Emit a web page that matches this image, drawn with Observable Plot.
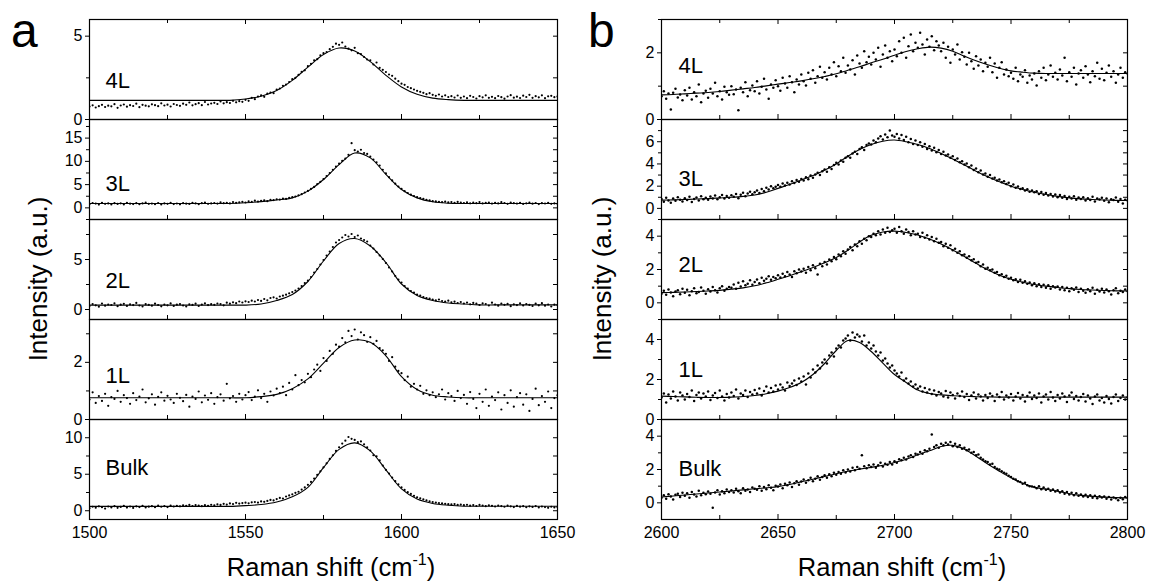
<!DOCTYPE html>
<html><head><meta charset="utf-8">
<script src="https://cdn.jsdelivr.net/npm/d3@7"></script>
<script src="https://cdn.jsdelivr.net/npm/@observablehq/plot@0.6"></script>
<style>
html,body{margin:0;padding:0;background:#fff;}
#chart{position:relative;width:1151px;height:581px;background:#fff;overflow:hidden;font-family:"Liberation Sans",Arial,sans-serif;color:#000}
#chart svg.sub{position:absolute;overflow:visible}
#overlay{position:absolute;left:0;top:0}
</style></head><body><div id="chart"></div>
<script>
// ---------------- panel a (G band) ----------------
const aXDomain = [1500, 1650];
const aXMajor = [1500, 1550, 1600, 1650];
const aXMinor = [1525, 1575, 1625];
const aDotStart = 1500, aDotStep = 1;
const aFitX = [1500,1505,1510,1515,1520,1525,1530,1535,1540,1545,1550,1555,1560,1565,1570,1575,1580,1585,1590,1595,1600,1605,1610,1615,1620,1625,1630,1635,1640,1645,1650];

const aFit4L = [1.15,1.15,1.15,1.15,1.15,1.15,1.15,1.15,1.15,1.15,1.23,1.40,1.74,2.35,3.14,3.90,4.29,4.11,3.47,2.65,1.95,1.51,1.28,1.19,1.15,1.15,1.15,1.15,1.15,1.15,1.15];
const aFit3L = [0.95,0.95,0.95,0.95,0.95,0.95,0.95,0.95,0.95,0.95,1.10,1.35,1.70,2.15,3.60,6.10,9.30,11.80,10.75,7.20,3.95,2.15,1.30,1.00,0.95,0.95,0.95,0.95,0.95,0.95,0.95];
const aFit2L = [0.44,0.44,0.44,0.44,0.44,0.44,0.44,0.44,0.44,0.44,0.44,0.55,0.90,1.50,2.80,4.85,6.60,7.10,6.35,4.70,2.55,1.40,0.90,0.65,0.55,0.46,0.46,0.46,0.46,0.46,0.46];
const aFit1L = [0.76,0.76,0.76,0.76,0.76,0.76,0.76,0.76,0.76,0.76,0.76,0.80,0.88,1.08,1.42,1.97,2.52,2.78,2.70,2.23,1.50,1.05,0.85,0.79,0.76,0.76,0.76,0.76,0.76,0.76,0.76];
const aFitBulk = [0.60,0.60,0.60,0.60,0.60,0.60,0.60,0.60,0.60,0.60,0.70,0.85,1.20,1.90,3.20,5.90,8.40,9.30,8.20,5.60,3.00,1.60,1.00,0.75,0.62,0.62,0.62,0.62,0.62,0.62,0.62];

const aDot4L = [0.78,0.85,0.72,0.80,0.88,0.75,0.83,0.79,0.92,0.70,
0.84,0.90,0.77,0.86,0.81,0.95,0.74,0.88,0.83,0.79,
0.91,0.86,0.80,0.97,0.84,0.89,0.78,0.93,0.87,0.82,
0.95,0.88,1.02,0.85,0.92,0.98,0.86,1.05,0.90,0.96,
1.00,0.93,1.08,0.97,1.04,0.99,1.12,1.03,1.10,1.06,
1.18,1.12,1.30,1.22,1.38,1.45,1.36,1.55,1.62,1.58,
1.80,1.86,2.02,2.10,2.25,2.42,2.50,2.68,2.86,2.95,
3.20,3.34,3.55,3.62,3.85,3.98,4.05,4.22,4.36,4.55,
4.48,4.62,4.38,4.25,4.15,4.30,3.98,3.92,3.75,3.60,
3.55,3.30,3.42,3.10,2.98,2.85,2.70,2.62,2.45,2.30,
2.15,2.08,1.95,1.88,1.80,1.72,1.66,1.60,1.52,1.58,
1.48,1.42,1.50,1.38,1.45,1.35,1.40,1.32,1.44,1.30,
1.38,1.28,1.42,1.35,1.26,1.40,1.33,1.45,1.30,1.36,
1.28,1.41,1.34,1.25,1.38,1.46,1.31,1.37,1.29,1.43,
1.35,1.48,1.30,1.40,1.33,1.45,1.28,1.39,1.42,1.34,
1.38];
const aDot3L = [0.80,1.05,0.92,0.70,1.10,0.88,0.95,0.75,1.02,0.85,
0.98,0.72,1.08,0.90,0.82,1.00,0.78,0.95,1.12,0.86,
0.92,0.80,1.05,0.74,0.96,0.88,1.10,0.82,0.94,0.76,
1.02,0.90,0.84,1.08,0.95,0.78,1.00,1.15,0.88,0.96,
1.05,0.92,1.18,1.00,1.10,0.95,1.25,1.08,1.20,1.30,
1.15,1.40,1.28,1.55,1.35,1.50,1.62,1.45,1.75,1.68,
1.85,1.78,2.00,1.92,2.15,2.30,2.45,2.70,2.95,3.30,
3.65,4.10,4.50,5.10,5.60,6.20,6.85,7.50,8.20,8.90,
9.50,10.10,10.60,11.40,13.90,12.40,12.10,12.50,11.80,11.60,
11.00,10.40,9.80,9.10,8.20,7.40,6.60,5.90,5.20,4.60,
4.10,3.60,3.20,2.85,2.55,2.30,2.10,1.95,1.70,1.60,
1.45,1.38,1.30,1.22,1.35,1.18,1.25,1.10,1.28,1.15,
1.05,1.20,0.98,1.12,1.02,1.25,0.95,1.08,1.15,0.92,
1.10,0.96,1.22,1.05,0.88,1.15,1.00,0.92,1.08,0.85,
0.98,1.12,0.90,1.05,0.82,1.00,0.94,1.08,0.86,0.96,
0.90];
const aDot2L = [0.35,0.55,0.42,0.28,0.60,0.38,0.50,0.45,0.62,0.33,
0.48,0.57,0.36,0.52,0.44,0.66,0.40,0.30,0.54,0.47,
0.38,0.58,0.45,0.32,0.50,0.42,0.61,0.36,0.48,0.55,
0.40,0.30,0.52,0.46,0.58,0.35,0.49,0.62,0.44,0.53,
0.47,0.60,0.55,0.42,0.68,0.58,0.72,0.63,0.80,0.70,
0.82,0.75,0.88,0.80,0.95,0.86,1.05,0.92,1.15,1.22,
1.10,1.30,1.38,1.48,1.62,1.75,1.90,2.10,2.35,2.65,
2.90,3.25,3.70,4.05,4.50,4.95,5.40,5.80,6.25,6.70,
6.95,7.20,7.45,7.30,7.55,7.25,7.40,7.10,6.95,6.80,
6.40,6.10,5.75,5.40,5.05,4.65,4.20,3.80,3.35,3.00,
2.70,2.35,2.10,1.85,1.70,1.50,1.38,1.25,1.15,1.08,
0.98,0.92,1.00,0.85,0.80,0.88,0.72,0.78,0.65,0.75,
0.60,0.70,0.52,0.66,0.58,0.45,0.62,0.55,0.40,0.68,
0.50,0.38,0.60,0.47,0.56,0.33,0.52,0.44,0.62,0.40,
0.55,0.46,0.35,0.58,0.42,0.63,0.38,0.50,0.30,0.48,
0.45];
const aDot1L = [0.70,0.95,0.58,0.82,0.65,0.90,0.48,0.78,0.72,1.00,
0.62,0.85,0.75,0.55,0.92,0.68,0.80,1.05,0.60,0.74,
0.88,0.52,0.79,0.95,0.66,0.83,0.70,0.58,0.90,0.76,
0.64,0.86,0.45,0.80,0.72,0.98,0.60,0.84,0.69,0.92,
0.55,0.78,0.88,0.66,1.25,0.74,0.82,0.62,0.90,0.70,
0.85,0.96,0.68,0.80,1.02,0.75,0.90,0.62,0.98,0.84,
1.08,0.92,1.15,0.85,1.28,1.05,1.55,1.20,1.38,1.30,
1.60,1.48,1.75,1.92,1.70,2.15,2.05,2.40,2.30,2.62,
2.55,2.85,2.70,3.10,2.92,3.15,2.80,3.05,2.95,2.72,
2.88,2.65,2.75,2.50,2.42,2.30,2.05,2.18,1.85,1.70,
1.62,1.38,1.50,1.15,1.25,1.05,1.18,0.90,1.02,0.85,
0.95,0.78,0.88,1.05,0.70,0.92,0.82,0.65,1.00,0.75,
0.86,0.55,0.96,0.72,0.40,0.90,0.62,1.05,0.48,0.80,
0.68,0.95,0.35,0.85,0.58,1.02,0.45,0.78,0.92,0.52,
0.88,0.30,0.72,1.08,0.50,0.82,0.62,0.98,0.40,0.75,
0.85];
const aDotBulk = [0.35,0.55,0.42,0.60,0.48,0.30,0.58,0.45,0.62,0.40,
0.52,0.66,0.44,0.58,0.38,0.60,0.50,0.68,0.46,0.56,
0.62,0.48,0.70,0.55,0.64,0.50,0.72,0.58,0.66,0.60,
0.75,0.68,0.80,0.65,0.78,0.70,0.62,0.76,0.68,0.82,
0.74,0.88,0.80,0.95,0.85,1.00,0.92,1.08,0.98,1.05,
1.10,1.02,1.15,1.20,1.12,1.28,1.22,1.35,1.48,1.42,
1.60,1.75,1.68,1.95,2.10,2.25,2.45,2.60,2.90,3.20,
3.55,3.95,4.40,4.90,5.40,5.95,6.50,7.10,7.60,8.20,
8.70,9.20,9.60,10.10,9.85,9.70,9.40,9.50,9.10,8.70,
8.25,7.60,7.45,6.90,6.20,5.60,5.10,4.55,4.05,3.60,
3.20,2.85,2.55,2.30,2.05,1.85,1.70,1.55,1.42,1.30,
1.20,1.12,1.05,1.00,0.95,0.90,0.86,0.92,0.80,0.85,
0.76,0.82,0.70,0.78,0.65,0.80,0.72,0.62,0.75,0.68,
0.58,0.72,0.64,0.55,0.70,0.60,0.50,0.66,0.56,0.62,
0.48,0.60,0.52,0.64,0.45,0.58,0.50,0.40,0.55,0.46,
0.52];

// ---------------- panel b (2D band) ----------------
const bXDomain = [2600, 2800];
const bXMajor = [2600, 2650, 2700, 2750, 2800];
const bXMinor = [2625, 2675, 2725, 2775];
const bDotStart = 2600, bDotStep = 1;
const bFitX = [2600,2605,2610,2615,2620,2625,2630,2635,2640,2645,2650,2655,2660,2665,2670,2675,2680,2685,2690,2695,2700,2705,2710,2715,2720,2725,2730,2735,2740,2745,2750,2755,2760,2765,2770,2775,2780,2785,2790,2795,2800];

const bFit4L = [0.74,0.75,0.77,0.79,0.81,0.84,0.88,0.92,0.96,1.01,1.06,1.11,1.16,1.22,1.29,1.37,1.48,1.58,1.70,1.81,1.93,2.04,2.12,2.17,2.14,2.05,1.90,1.76,1.64,1.54,1.46,1.42,1.39,1.38,1.38,1.38,1.38,1.38,1.38,1.38,1.38];
const bFit3L = [0.74,0.77,0.80,0.84,0.88,0.94,1.00,1.08,1.20,1.45,1.80,2.15,2.55,2.95,3.45,4.00,4.70,5.30,5.75,6.05,6.15,6.00,5.75,5.40,4.95,4.45,3.90,3.35,2.85,2.40,2.00,1.70,1.45,1.25,1.08,0.95,0.86,0.80,0.75,0.72,0.71];
const bFit2L = [0.61,0.63,0.65,0.68,0.71,0.75,0.82,0.90,1.02,1.20,1.41,1.63,1.87,2.12,2.40,2.72,3.15,3.65,4.05,4.25,4.30,4.22,4.07,3.83,3.53,3.17,2.78,2.37,1.98,1.66,1.42,1.24,1.10,1.00,0.92,0.85,0.80,0.77,0.74,0.72,0.71];
const bFit1L = [1.17,1.15,1.13,1.11,1.10,1.10,1.12,1.15,1.20,1.29,1.42,1.60,1.85,2.25,2.80,3.45,3.95,3.85,3.40,2.82,2.25,1.85,1.47,1.30,1.23,1.19,1.16,1.14,1.13,1.12,1.12,1.12,1.12,1.12,1.12,1.12,1.12,1.12,1.12,1.12,1.12];
const bFitBulk = [0.35,0.41,0.47,0.53,0.59,0.65,0.71,0.78,0.84,0.90,0.97,1.10,1.26,1.42,1.58,1.75,1.90,2.02,2.13,2.25,2.42,2.62,2.88,3.12,3.38,3.45,3.22,2.80,2.33,1.90,1.50,1.17,0.93,0.82,0.70,0.55,0.45,0.39,0.34,0.31,0.30];

const bDot4L = [0.70,0.85,0.62,0.78,0.30,0.80,0.92,0.66,0.75,0.58,
0.88,0.72,0.95,0.60,0.82,0.70,1.05,0.52,0.78,0.86,
0.65,0.92,0.78,1.10,0.70,0.85,0.60,0.98,0.82,0.74,
1.00,0.76,0.90,0.28,0.95,0.82,1.12,0.70,0.88,1.02,
0.85,1.15,0.78,0.98,1.22,0.90,0.62,1.05,0.95,1.18,
1.00,0.86,1.25,1.08,0.95,1.30,1.12,0.82,1.20,1.05,
1.35,1.15,1.02,1.40,1.22,1.48,1.10,1.30,1.58,1.25,
1.42,1.20,1.55,1.35,1.72,1.30,1.60,1.45,1.85,1.40,
1.62,1.50,1.78,1.35,1.92,1.68,1.55,2.05,1.72,1.88,
1.65,2.00,1.80,2.15,1.58,1.95,2.22,1.85,2.05,1.75,
2.10,1.90,2.35,2.00,2.45,1.85,2.20,2.55,2.05,2.30,
2.15,2.60,2.25,1.95,2.40,2.18,2.50,2.08,2.35,2.22,
2.05,2.30,1.85,2.18,1.70,2.10,1.95,2.25,1.80,2.02,
1.88,1.65,2.00,1.75,1.52,1.90,1.62,1.80,1.45,1.70,
1.58,1.85,1.42,1.68,1.25,1.55,1.72,1.35,1.50,1.30,
1.40,1.22,1.55,1.15,1.35,1.28,1.48,1.10,1.32,1.20,
1.38,1.02,1.45,1.25,1.55,1.18,1.35,1.62,1.28,1.40,
1.20,1.50,1.32,1.85,1.15,1.42,1.28,1.55,1.05,1.38,
1.48,1.25,1.60,1.35,1.12,1.45,1.30,1.70,1.22,1.52,
1.18,1.40,1.62,1.28,1.45,1.10,1.35,1.55,1.25,1.42,
1.38];
const bDot3L = [0.85,0.60,0.95,0.72,0.50,0.88,0.68,1.00,0.78,0.62,
0.92,0.75,1.05,0.58,0.85,0.98,0.70,1.10,0.82,0.95,
0.78,1.08,0.90,1.15,0.82,1.00,1.20,0.88,1.12,0.95,
1.18,1.05,1.30,0.92,1.22,1.40,1.10,1.35,1.50,1.28,
1.45,1.62,1.38,1.75,1.55,1.85,1.70,2.00,1.82,1.95,
2.10,1.95,2.25,2.05,2.30,2.15,2.45,2.28,2.55,2.40,
2.65,2.50,2.80,2.62,2.95,2.75,3.05,3.20,3.00,3.35,
3.50,3.30,3.70,3.55,3.90,4.10,3.95,4.30,4.20,4.55,
4.70,4.55,4.95,5.10,4.90,5.35,5.50,5.25,5.70,5.85,
5.75,6.10,5.95,6.30,6.50,6.20,6.65,6.40,7.00,6.55,
6.45,6.70,6.30,6.60,6.15,6.45,5.95,6.25,5.80,6.10,
5.70,5.95,5.55,5.80,5.35,5.60,5.20,5.45,5.05,5.25,
4.90,5.10,4.75,4.85,4.55,4.70,4.35,4.50,4.15,4.25,
3.95,4.05,3.70,3.85,3.45,3.60,3.25,3.40,3.05,3.15,
2.85,3.00,2.70,2.75,2.50,2.60,2.35,2.45,2.20,2.30,
2.00,2.15,1.85,1.98,1.75,1.82,1.60,1.72,1.50,1.62,
1.45,1.55,1.30,1.48,1.22,1.38,1.15,1.30,1.08,1.25,
1.00,1.20,0.95,1.12,0.85,1.05,0.90,1.10,0.78,0.98,
0.85,1.00,0.70,0.92,0.75,1.05,0.62,0.88,0.80,0.95,
0.68,0.90,0.55,0.82,0.75,0.98,0.60,0.85,0.45,0.78,
0.72];
const bDot2L = [0.55,0.72,0.48,0.80,0.62,0.40,0.68,0.75,0.52,0.85,
0.60,0.78,0.45,0.70,0.88,0.58,0.65,0.92,0.72,0.55,
0.82,0.68,0.95,0.75,0.62,0.88,1.00,0.72,0.85,0.95,
0.90,1.10,0.85,1.20,0.98,1.30,1.05,1.15,1.35,1.08,
1.25,1.40,1.18,1.50,1.32,1.45,1.60,1.38,1.55,1.48,
1.65,1.52,1.75,1.60,1.85,1.70,1.55,1.90,1.78,2.00,
1.88,2.05,1.80,2.15,1.95,2.25,2.08,1.70,2.35,2.20,
2.45,2.30,2.60,2.50,2.75,2.62,2.90,2.80,3.10,2.95,
3.20,3.35,3.15,3.50,3.40,3.70,3.55,3.85,3.75,4.00,
3.95,4.15,4.05,4.30,4.10,4.40,4.20,4.50,4.25,4.35,
4.45,4.20,4.55,4.30,4.15,4.40,4.25,4.05,4.30,4.10,
4.15,3.95,4.20,3.90,4.05,3.80,3.95,3.70,3.85,3.60,
3.65,3.40,3.55,3.30,3.45,3.15,3.25,3.00,3.10,2.85,
2.90,2.70,2.80,2.55,2.62,2.40,2.45,2.20,2.30,2.05,
2.10,1.95,2.00,1.80,1.85,1.65,1.72,1.55,1.62,1.45,
1.50,1.35,1.42,1.25,1.38,1.20,1.30,1.15,1.22,1.05,
1.18,1.00,1.12,0.95,1.08,0.90,1.05,0.85,1.00,0.92,
0.98,0.80,0.95,0.75,0.90,0.70,0.88,0.78,0.92,0.65,
0.85,0.72,0.60,0.82,0.70,0.90,0.55,0.78,0.68,0.85,
0.62,0.80,0.70,0.50,0.75,0.88,0.58,0.72,0.65,0.80,
0.70];
const bDot1L = [1.10,1.30,0.85,1.25,1.05,1.40,1.15,0.95,1.35,1.20,
1.00,1.28,1.12,1.45,0.92,1.22,1.35,1.05,1.30,1.15,
1.40,0.98,1.20,1.32,1.08,1.45,1.15,0.95,1.28,1.10,
1.35,1.18,1.50,1.05,1.30,1.22,1.45,1.12,1.38,1.25,
1.48,1.30,1.55,1.20,1.42,1.65,1.35,1.58,1.40,1.70,
1.50,1.75,1.60,1.45,1.85,1.68,1.80,1.95,1.72,2.05,
1.90,2.15,1.75,2.30,2.10,2.50,2.35,2.70,2.55,2.85,
3.00,2.80,3.20,3.35,3.15,3.55,3.70,3.60,3.95,4.05,
4.20,3.95,4.35,4.10,4.25,4.15,3.90,4.20,3.70,3.85,
3.55,3.70,3.40,3.20,3.35,2.95,3.05,2.80,2.60,2.70,
2.45,2.30,2.15,2.35,1.95,2.05,1.80,1.90,1.65,1.75,
1.55,1.65,1.40,1.58,1.35,1.50,1.28,1.45,1.20,1.38,
1.30,1.15,1.42,1.10,1.35,1.22,1.05,1.30,1.18,1.40,
1.12,1.28,0.98,1.20,1.35,1.05,1.25,1.15,0.95,1.22,
1.08,1.30,1.18,0.92,1.25,1.12,1.38,1.00,1.20,1.10,
1.28,0.95,1.15,1.32,1.05,1.22,0.90,1.18,1.35,1.02,
1.20,1.08,1.30,0.85,1.15,1.25,1.00,1.38,1.10,0.92,
1.22,1.05,1.30,1.15,0.88,1.20,1.35,1.02,1.18,0.95,
1.12,1.28,0.90,1.20,1.05,0.78,1.15,1.25,0.95,1.08,
0.85,1.18,1.02,0.80,1.12,1.25,0.92,1.08,1.20,1.00,
1.10];
const bDotBulk = [0.30,0.45,0.25,0.52,0.38,0.20,0.48,0.55,0.35,0.60,
0.42,0.58,0.30,0.65,0.50,0.38,0.72,0.45,0.60,0.52,
0.68,0.55,-0.30,0.62,0.75,0.50,0.70,0.58,0.80,0.65,
0.75,0.62,0.85,0.70,0.58,0.88,0.72,0.80,0.65,0.92,
0.85,0.78,1.00,0.72,0.95,0.82,1.05,0.90,0.75,1.02,
0.98,1.10,0.88,1.15,1.05,1.22,0.95,1.18,1.30,1.08,
1.28,1.40,1.20,1.35,1.50,1.30,1.45,1.60,1.38,1.55,
1.65,1.50,1.72,1.60,1.80,1.68,1.85,1.75,1.95,1.82,
2.00,1.88,2.10,1.95,2.15,2.05,2.85,2.20,2.08,2.25,
2.15,2.30,2.10,2.25,2.40,2.18,2.35,2.28,2.45,2.30,
2.50,2.40,2.62,2.55,2.70,2.60,2.78,2.85,2.75,2.95,
2.90,3.05,2.95,3.15,3.10,3.25,4.10,3.35,3.45,3.30,
3.55,3.45,3.60,3.50,3.65,3.40,3.55,3.35,3.45,3.25,
3.30,3.15,3.20,3.00,3.05,2.85,2.90,2.70,2.60,2.50,
2.45,2.30,2.35,2.15,2.05,2.00,1.90,1.80,1.75,1.62,
1.55,1.45,1.40,1.30,1.25,1.15,1.20,1.05,1.00,0.98,
0.95,0.88,1.00,0.82,0.92,0.78,0.85,0.72,0.80,0.68,
0.75,0.62,0.70,0.55,0.65,0.50,0.60,0.45,0.58,0.42,
0.50,0.38,0.48,0.35,0.45,0.30,0.42,0.28,0.40,0.32,
0.38,0.25,0.35,0.20,0.32,0.28,0.15,0.30,0.22,0.35,
0.30];

// ---------------- row labels and y scales ----------------
const rowLabels = ["4L", "3L", "2L", "1L", "Bulk"];
const aYDomains = [[0, 6], [-2.5, 19], [-1, 9], [0, 3.5], [-1.2, 12.5]];
const aYMajor = [[0, 5], [0, 5, 10, 15], [0, 5], [0, 2], [0, 5, 10]];
const aYMinor = [[2.5], [-2.5, 2.5, 7.5, 12.5, 17.5], [2.5, 7.5], [1, 3], [2.5, 7.5]];
const bYDomains = [[0, 3], [-1, 8], [-1, 5], [0, 5], [-1, 5]];
const bYMajor = [[0, 2], [0, 2, 4, 6], [0, 2, 4], [0, 2, 4], [0, 2, 4]];
const bYMinor = [[1, 3], [1, 3, 5, 7], [1, 3, 5], [1, 3, 5], [1, 3]];

const aFits = [aFit4L, aFit3L, aFit2L, aFit1L, aFitBulk];
const aDots = [aDot4L, aDot3L, aDot2L, aDot1L, aDotBulk];
const bFits = [bFit4L, bFit3L, bFit2L, bFit1L, bFitBulk];
const bDots = [bDot4L, bDot3L, bDot2L, bDot1L, bDotBulk];

// layout (pixels)
const FONT = '"Liberation Sans", Arial, sans-serif';
const ROW_TOP0 = 18.5, ROW_H = 100;
const aLabelDy = [61, 64.5, 61.5, 56, 48];
const bLabelDy = [46, 59, 45.5, 50.5, 49];

const chart = document.getElementById("chart");

function subplot(o) {
  const mL = 45, mR = 8, mT = 8, mB = o.bottom ? 34 : 8;
  const H = ROW_H, W = o.w;
  const fit = o.fitX.map((x, i) => ({x, y: o.fitY[i]}));
  const pts = o.dots.map((y, i) => ({x: o.dotStart + i * o.dotStep, y}));
  const marks = [
    Plot.dot(pts, {x: "x", y: "y", r: o.r, fill: "black", stroke: "none", clip: true}),
    Plot.line(fit, {x: "x", y: "y", stroke: "black", strokeWidth: 1.1, curve: "catmull-rom", clip: true}),
    Plot.ruleX(o.xMajor, {stroke: "black", strokeWidth: 1, insetTop: H - 5}),
    Plot.ruleX(o.xMinor, {stroke: "black", strokeWidth: 1, insetTop: H - 4}),
    Plot.ruleY(o.yMajor.concat(o.yMinor), {stroke: "black", strokeWidth: 1, insetLeft: W - 4}),
    Plot.axisY({anchor: "left", ticks: o.yMajor, tickSize: 4, tickPadding: 3, tickFormat: d => String(d), label: null, fontSize: 16}),
    Plot.axisY({anchor: "left", ticks: o.yMinor, tickSize: 3, tickFormat: () => "", label: null}),
    Plot.frame({stroke: "black", strokeWidth: 1.2}),
    Plot.text([o.label], {frameAnchor: "top-left", dx: o.labDx, dy: o.labDy, text: d => d, fontSize: 22, textAnchor: "start", lineAnchor: "middle", fill: "black"})
  ];
  if (o.topTicks) {
    marks.push(Plot.ruleX(o.xMajor, {stroke: "black", strokeWidth: 1, insetBottom: H - 5}));
    marks.push(Plot.ruleX(o.xMinor, {stroke: "black", strokeWidth: 1, insetBottom: H - 4}));
  }
  if (o.bottom) {
    marks.push(Plot.axisX({anchor: "bottom", ticks: o.xMajor, tickSize: 0, tickPadding: 7, tickFormat: d => String(d), label: null, fontSize: 16}));
  }
  const svg = Plot.plot({
    width: W + mL + mR,
    height: H + mT + mB,
    marginLeft: mL, marginRight: mR, marginTop: mT, marginBottom: mB,
    x: o.bottom ? {domain: o.xdom} : {domain: o.xdom, axis: null},
    y: {domain: o.ydom},
    style: {background: "transparent", overflow: "visible", fontFamily: FONT, fontSize: "16px", color: "black"},
    marks
  });
  svg.classList.add("sub");
  svg.style.left = (o.left - mL) + "px";
  svg.style.top = (o.top - mT) + "px";
  // make sure numeric tick labels use the chart font at 16px
  svg.querySelectorAll("text").forEach(t => {
    if (/^-?[0-9.]+$/.test(t.textContent.trim())) {
      t.setAttribute("font-size", "16");
      t.style.fontSize = "16px";
      t.style.fontFamily = FONT;
    }
  });
  chart.appendChild(svg);
}

for (let r = 0; r < 5; r++) {
  const top = ROW_TOP0 + r * ROW_H;
  subplot({left: 89, top, w: 468, xdom: aXDomain, xMajor: aXMajor, xMinor: aXMinor,
    ydom: aYDomains[r], yMajor: aYMajor[r], yMinor: aYMinor[r],
    fitX: aFitX, fitY: aFits[r], dotStart: aDotStart, dotStep: aDotStep, dots: aDots[r], r: 1.1,
    label: rowLabels[r], labDx: 16, labDy: aLabelDy[r], topTicks: r === 0, bottom: r === 4});
  subplot({left: 661, top, w: 466, xdom: bXDomain, xMajor: bXMajor, xMinor: bXMinor,
    ydom: bYDomains[r], yMajor: bYMajor[r], yMinor: bYMinor[r],
    fitX: bFitX, fitY: bFits[r], dotStart: bDotStart, dotStep: bDotStep, dots: bDots[r], r: 1.25,
    label: rowLabels[r], labDx: 17, labDy: bLabelDy[r], topTicks: r === 0, bottom: r === 4});
}

// overlay: panel letters and axis titles
const NS = "http://www.w3.org/2000/svg";
const ov = document.createElementNS(NS, "svg");
ov.setAttribute("id", "overlay");
ov.setAttribute("width", 1151); ov.setAttribute("height", 581);
ov.style.fontFamily = FONT;
chart.appendChild(ov);
function txt(parent, s, attrs) {
  const t = document.createElementNS(NS, "text");
  for (const k in attrs) t.setAttribute(k, attrs[k]);
  if (s != null) t.textContent = s;
  parent.appendChild(t);
  return t;
}
txt(ov, "a", {x: 11, y: 47, "font-size": 48});
txt(ov, "b", {x: 588, y: 47, "font-size": 48});
function xTitle(cx) {
  const t = txt(ov, null, {x: cx, y: 576, "font-size": 25.5, "text-anchor": "middle"});
  const s1 = document.createElementNS(NS, "tspan"); s1.textContent = "Raman shift (cm"; t.appendChild(s1);
  const s2 = document.createElementNS(NS, "tspan"); s2.textContent = "-1"; s2.setAttribute("font-size", 16); s2.setAttribute("dy", -11); t.appendChild(s2);
  const s3 = document.createElementNS(NS, "tspan"); s3.textContent = ")"; s3.setAttribute("dy", 11); t.appendChild(s3);
}
xTitle(331); xTitle(902);
txt(ov, "Intensity (a.u.)", {transform: "translate(47,279) rotate(-90)", "font-size": 26, "text-anchor": "middle"});
txt(ov, "Intensity (a.u.)", {transform: "translate(611,279) rotate(-90)", "font-size": 26, "text-anchor": "middle"});
</script></body></html>
